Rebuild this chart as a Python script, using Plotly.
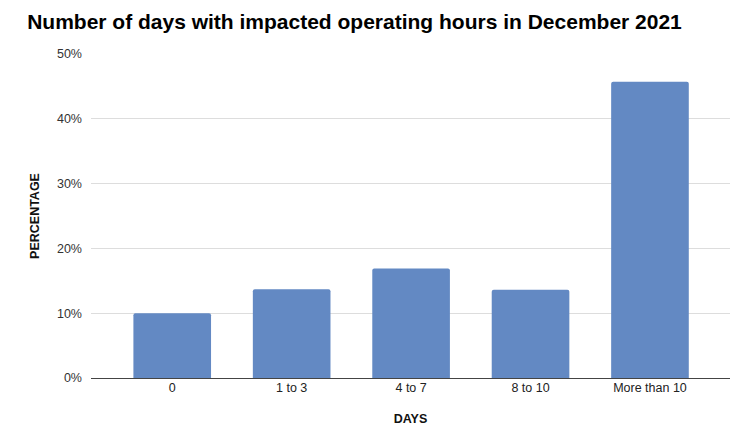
import plotly.graph_objects as go

categories = ["0", "1 to 3", "4 to 7", "8 to 10", "More than 10"]
percentages = [10.0, 13.7, 16.9, 13.6, 45.7]
y_ticks = [0, 10, 20, 30, 40, 50]
y_tick_labels = ["0%", "10%", "20%", "30%", "40%", "50%"]

fig = go.Figure(go.Bar(
    x=list(range(len(categories))),
    y=percentages,
    marker=dict(color="#6389c3", line=dict(width=0), cornerradius=2),
    hoverinfo="skip",
))

fig.update_layout(
    width=754, height=434,
    margin=dict(l=91, r=24, t=54, b=56, autoexpand=False),
    paper_bgcolor="white", plot_bgcolor="white",
    font=dict(family="Liberation Sans, Arial, sans-serif", color="#333333", size=12.5),
    title=dict(text="<b>Number of days with impacted operating hours in December 2021</b>",
               x=0.036, xanchor="left", y=0.95, yanchor="middle",
               font=dict(size=21, color="#000000")),
    bargap=0.35,
    showlegend=False,
)
fig.update_xaxes(
    tickmode="array", tickvals=list(range(len(categories))), ticktext=categories,
    range=[-0.68, 4.67], showgrid=False, zeroline=False, automargin=False,
    showline=False, ticks="", tickfont=dict(size=12.5, color="#222222"),
    title=dict(text="<b>DAYS</b>", font=dict(size=12.5, color="#111111"), standoff=20),
)
fig.update_yaxes(
    tickmode="array", tickvals=y_ticks, ticktext=y_tick_labels,
    range=[0, 50], showgrid=True, gridcolor="#dddddd", gridwidth=1,
    zeroline=True, zerolinecolor="#444444", zerolinewidth=1, automargin=False,
    ticks="", ticklabelstandoff=8, tickfont=dict(size=12.5, color="#333333"),
    title=dict(text="<b>PERCENTAGE</b>", font=dict(size=12.5, color="#111111"), standoff=14),
)

fig.write_html(
    "out.html",
    config={"displayModeBar": False},
    post_script="document.body.style.margin='0';document.body.style.overflow='hidden';",
)
